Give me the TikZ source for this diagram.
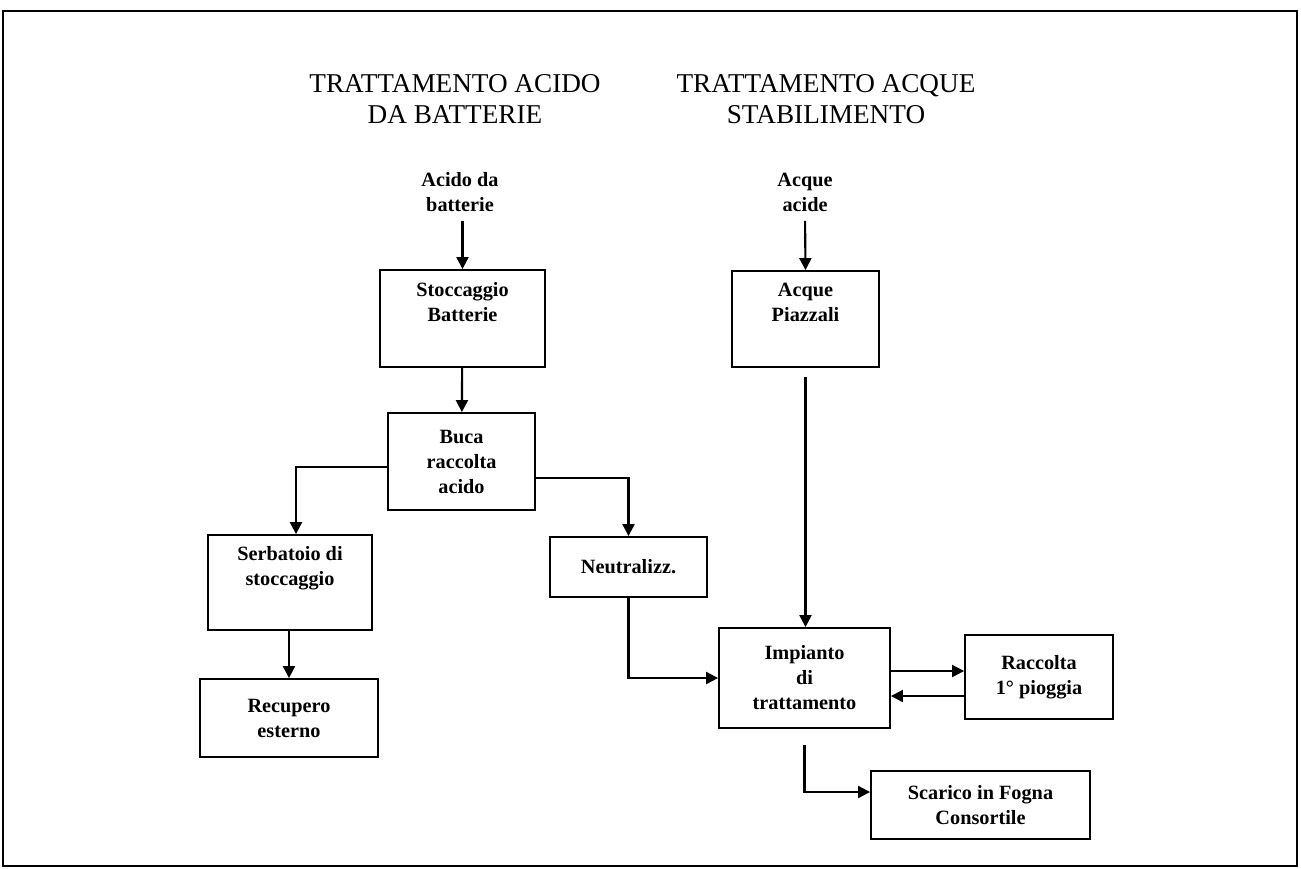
\documentclass[tikz,border=0pt]{standalone}
\usepackage{fontspec}
\setmainfont{Liberation Serif}
\usetikzlibrary{arrows.meta,calc}

\tikzset{
    box/.style={draw, line width=1.4pt, align=center, inner sep=2pt, font=\fontsize{15.2}{18.75}\selectfont\bfseries},
    tag/.style={align=center, inner sep=2pt, font=\fontsize{15.2}{18.75}\selectfont\bfseries},
    heading/.style={align=center, inner sep=0pt, font=\fontsize{20.4}{23.25}\selectfont},
    flow/.style={line width=1.6pt, -{Triangle[length=9pt,width=9pt]}}
}

\begin{document}
\begin{tikzpicture}[x=0.75pt,y=0.75pt,yscale=-1,xscale=1]
    \useasboundingbox (0,0) rectangle (1301,868);
    %Shape: Frame
    \draw [line width=1.2pt] (3,11) rectangle (1297,866);

    %Text: headings
    \node[heading] (headacido) at (455,99) {TRATTAMENTO ACIDO\\DA BATTERIE};
    \node[heading] (headacque) at (826,99) {TRATTAMENTO ACQUE\\STABILIMENTO};

    %Text: inputs
    \node[tag] (lblacido) at (460,192) {Acido da\\batterie};
    \node[tag] (lblacque) at (805,192) {Acque\\acide};

    %Shape: Rectangle - acid side
    \node[box, minimum width=123.75pt, minimum height=72.75pt] (stocc) at (462.5,318.5) {Stoccaggio\\Batterie\\\strut};
    \node[box, minimum width=110.25pt, minimum height=72.75pt] (buca) at (461.5,461.5) {Buca\\raccolta\\acido};
    \node[box, minimum width=123pt, minimum height=71.25pt] (serb) at (290,582.5) {Serbatoio di\\stoccaggio\\\strut};
    \node[box, minimum width=133.5pt, minimum height=58.5pt] (recup) at (289,718) {Recupero\\esterno};
    \node[box, minimum width=117.75pt, minimum height=45pt] (neutr) at (628.5,567) {Neutralizz.};

    %Shape: Rectangle - water side
    \node[box, minimum width=110.25pt, minimum height=72pt] (piazz) at (805.5,319) {Acque\\Piazzali\\\strut};
    \node[box, minimum width=128.25pt, minimum height=75pt] (imp) at (804.5,678) {Impianto\\di\\trattamento};
    \node[box, minimum width=111pt, minimum height=63pt] (racc) at (1039,677) {Raccolta\\1° pioggia};
    \node[box, minimum width=164.25pt, minimum height=51pt] (scar) at (980.5,805) {Scarico in Fogna\\Consortile};

    %Straight Lines
    \draw[flow, shorten <=5pt] (lblacido.south -| stocc.north) -- (stocc.north);
    \draw[flow] (stocc) -- (buca);
    \coordinate (bl) at ($(buca.west)+(0,5.5)$);
    \draw[flow] (bl) -| ($(serb.north)+(6,0)$);
    \draw[flow] (serb.south -| recup.north) -- (recup.north);
    \coordinate (br) at ($(buca.east)+(0,16.5)$);
    \draw[flow] (br) -| (neutr.north);
    \draw[flow] (neutr.south) |- (imp.west);

    \draw[flow, shorten <=5pt] (lblacque.south) -- (piazz.north);
    \draw[flow, shorten <=7pt] (piazz.south) -- (piazz.south |- imp.north);
    \coordinate (ir) at ($(imp.east)+(0,-7)$);
    \draw[flow] (ir) -- (ir -| racc.west);
    \coordinate (ri) at ($(racc.west)+(0,19)$);
    \draw[flow] (ri) -- (ri -| imp.east);
    \coordinate (sw) at ($(scar.west)+(0,-13)$);
    \draw[flow, shorten <=12pt] (imp.south) |- (sw);
\end{tikzpicture}
\end{document}
